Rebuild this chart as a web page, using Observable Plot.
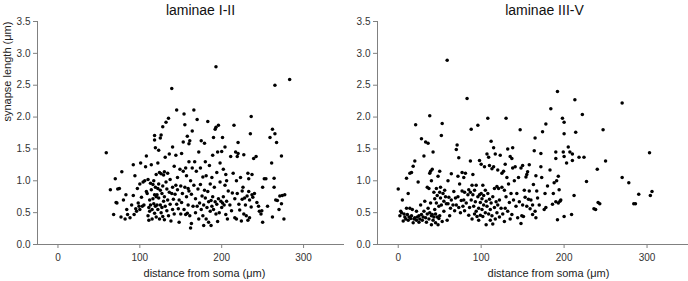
<!DOCTYPE html>
<html><head><meta charset="utf-8">
<script src="https://cdn.jsdelivr.net/npm/d3@7"></script>
<script src="https://cdn.jsdelivr.net/npm/@observablehq/plot@0.6"></script>
<style>body{margin:0;background:#fff}#wrap{display:flex;width:688px;height:281px;overflow:hidden}</style>
</head><body><div id="wrap"></div>
<script>
const titles = ["laminae I-II", "laminae III-V"];
const xLabel = "distance from soma (\u03bcm)";
const yLabel = "synapse length (\u03bcm)";
const xTicks = [0, 100, 200, 300];
const yTicks = [0, 0.5, 1.0, 1.5, 2.0, 2.5, 3.0, 3.5];
const xDomain = [-25, 350];
const yDomain = [0, 3.5];

// laminae I-II : [distance, length]
const lam12 = [
[59,1.44],[68,0.47],[70,1.03],[71,0.66],[72,0.65],[75,0.88],[73,0.87],[64,0.86],[77,0.43],[78,1.14],[80,0.70],[82,0.40],[84,0.55],[85,0.47],[83,0.78],
[88,0.42],[90,0.62],[92,1.25],[92,0.77],[93,0.47],[94,1.08],[95,0.56],[96,0.52],[97,0.88],[98,0.65],[99,0.60],[100,0.95],[100,0.55],[101,1.28],[102,0.74],
[103,0.60],[104,0.98],[105,0.62],[106,1.00],[107,1.22],[108,1.39],[108,0.83],[109,0.80],[110,1.02],[110,0.45],[111,0.38],[111,0.58],[112,0.70],[112,0.52],[113,0.96],[113,0.62],[114,1.25],[114,0.86],[115,0.55],[115,0.40],[116,0.94],[116,0.72],[117,1.00],[117,0.64],[118,1.71],[118,1.64],[118,0.78],[118,0.49],[119,1.52],[119,0.90],[119,0.60],[120,0.75],[120,1.10],[120,0.43],
[121,0.78],[121,0.62],[122,1.28],[122,0.88],[122,0.55],[123,1.48],[123,0.95],[123,0.73],[124,0.40],[124,1.13],[125,1.67],[125,0.85],[125,0.62],[126,0.50],[126,1.11],[126,1.72],[127,0.80],[127,0.58],[128,1.85],[128,0.92],[128,0.44],[129,1.09],[129,0.68],[130,1.14],[130,0.39],[130,0.75],[131,1.37],[131,0.60],[132,0.98],[132,1.92],[133,0.87],[133,0.53],[134,1.12],[134,0.70],[135,1.98],[135,0.45],[136,1.42],[136,0.82],[137,1.02],[137,0.63],[138,0.37],[139,2.45],[139,0.80],[140,1.53],[140,0.55],[140,0.90],
[141,0.71],[142,1.23],[142,0.48],[143,0.79],[144,0.93],[144,1.40],[145,0.63],[145,2.11],[146,1.05],[146,0.86],[147,0.56],[148,0.35],[148,0.70],[149,1.18],[150,0.92],[150,0.48],[151,1.43],[151,0.66],[152,0.80],[153,1.61],[153,1.15],[154,0.55],[154,2.05],[155,0.90],[155,1.88],[156,0.47],[156,1.20],[157,0.75],[157,1.08],[158,0.49],[158,1.70],[159,0.88],[159,0.62],[160,1.58],[160,1.30],[160,0.84],
[161,1.63],[161,0.45],[162,0.26],[162,1.00],[163,0.79],[163,0.33],[164,1.78],[164,1.20],[165,0.60],[166,2.11],[166,0.93],[167,1.30],[168,0.50],[168,0.72],[169,1.15],[170,1.96],[170,0.60],[171,0.87],[172,1.45],[172,0.40],[173,0.65],[174,1.20],[174,0.94],[175,1.63],[175,0.55],[176,0.76],[177,1.06],[177,0.45],[178,0.30],[178,0.62],[179,1.59],[179,0.85],[180,1.30],[180,0.73],
[181,0.40],[181,1.08],[182,0.58],[183,1.93],[183,0.83],[184,0.35],[184,0.67],[185,1.24],[186,0.52],[186,0.95],[187,0.30],[187,0.69],[188,1.05],[188,0.60],[189,1.40],[189,0.75],[190,1.68],[190,0.55],[193,2.79],[191,0.90],[192,1.81],[192,0.67],[193,1.84],[193,0.48],[194,1.13],[194,0.63],[195,1.45],[195,0.36],[196,1.87],[196,0.72],[197,0.50],[198,0.98],[198,1.28],[199,0.68],[200,1.46],[200,0.58],
[201,1.68],[201,0.65],[202,1.18],[202,0.75],[203,0.62],[204,1.53],[204,0.93],[205,1.10],[205,0.47],[206,0.68],[206,1.00],[207,0.40],[208,0.84],[210,0.62],[211,1.38],[212,0.53],[213,0.81],[214,1.12],[215,1.87],[216,0.42],[216,0.72],[217,1.45],[218,1.00],[218,0.40],[219,1.38],[219,0.80],[220,1.60],[220,1.43],
[221,0.63],[222,0.54],[223,1.05],[224,0.37],[225,0.84],[225,0.71],[226,0.90],[227,1.41],[227,0.48],[228,0.73],[229,0.62],[230,0.45],[231,0.76],[232,1.12],[232,0.38],[233,0.83],[233,1.03],[234,0.70],[234,0.42],[235,1.74],[236,2.01],[236,0.59],[237,1.10],[237,0.78],[238,0.74],[239,1.35],[240,0.80],
[242,1.38],[243,0.66],[245,0.60],[246,0.52],[248,0.48],[249,0.53],[250,0.35],[250,0.90],[252,1.03],[254,1.03],[256,0.60],[259,1.68],
[261,1.28],[262,0.43],[262,1.81],[264,1.04],[264,0.90],[265,1.74],[265,2.50],[266,0.70],[267,1.60],[268,0.69],[270,0.55],[271,0.76],[273,1.39],[273,0.64],[274,0.77],[276,0.40],[277,0.78],[283,2.59]
];

// laminae III-V : [distance, length]
const lam35 = [
[0,0.87],[2,0.45],[3,0.52],[4,0.50],[5,0.70],[6,0.37],[7,0.48],[8,0.43],[9,0.40],[10,1.04],[10,0.57],[11,0.47],[12,0.80],[12,0.38],[13,0.43],[14,0.57],[14,1.12],[15,0.41],[16,1.13],[16,0.45],[17,0.55],[18,1.23],[18,0.34],[19,0.40],[20,1.31],[20,0.42],
[21,1.88],[22,0.38],[22,0.52],[23,0.43],[24,0.98],[25,0.35],[25,0.45],[26,0.40],[27,0.62],[28,1.66],[28,0.47],[29,0.38],[30,0.43],[31,1.39],[31,0.52],[32,0.68],[33,1.61],[33,0.42],[34,0.35],[35,0.48],[35,0.90],[36,1.59],[36,0.57],[37,0.88],[37,0.40],[38,1.12],[38,2.02],[38,0.50],[39,0.65],[39,1.15],[40,0.31],[40,0.45],[40,1.00],
[41,0.47],[41,1.18],[42,1.45],[42,0.38],[43,0.43],[43,0.82],[44,0.72],[44,0.55],[45,0.34],[45,0.48],[46,0.65],[46,0.88],[47,0.77],[47,0.43],[48,0.31],[48,1.07],[49,0.60],[49,0.41],[50,0.82],[50,1.15],[50,0.45],[51,0.73],[51,0.90],[52,1.71],[52,0.62],[53,1.90],[53,0.36],[54,0.80],[55,0.52],[55,0.68],[56,0.85],[57,0.75],[58,0.64],[59,2.89],[59,0.38],[60,1.00],[60,0.64],
[61,0.74],[62,0.45],[63,0.57],[64,1.11],[64,0.70],[66,0.62],[67,0.83],[68,0.53],[69,0.73],[70,1.49],[70,0.62],[71,1.56],[72,1.07],[72,0.75],[73,1.36],[73,0.58],[74,0.95],[75,0.50],[76,0.69],[77,1.13],[77,0.84],[78,0.60],[79,1.05],[79,0.70],[80,0.53],[80,0.82],
[81,1.12],[82,0.65],[83,2.29],[84,0.78],[85,0.46],[85,0.86],[86,0.58],[87,1.31],[87,0.82],[88,1.81],[88,0.70],[89,0.40],[89,0.93],[90,0.78],[90,1.10],[91,0.60],[92,0.85],[92,0.48],[93,0.67],[94,0.93],[94,0.52],[95,0.44],[96,0.75],[96,1.87],[97,0.57],[97,0.38],[98,0.78],[98,1.32],[99,0.66],[99,0.46],[100,0.80],[100,1.26],
[101,0.55],[101,0.72],[102,0.44],[102,0.93],[103,0.62],[103,0.77],[104,1.22],[105,0.50],[105,0.85],[106,0.68],[106,0.31],[107,1.42],[107,0.60],[108,1.98],[108,0.80],[109,1.37],[109,0.48],[110,0.71],[110,1.24],[111,0.55],[111,0.38],[112,1.62],[112,0.65],[113,1.19],[113,0.45],[114,0.75],[114,0.32],[115,1.52],[115,1.22],[116,0.58],[116,0.88],[117,0.40],[117,1.42],[118,0.67],[119,0.91],[119,0.50],[120,0.62],[120,1.17],
[121,0.88],[122,0.43],[122,0.70],[123,1.40],[124,0.57],[125,1.12],[125,0.90],[126,0.48],[127,1.15],[128,0.85],[128,0.36],[129,1.26],[129,0.57],[130,1.98],[130,0.75],[131,1.05],[132,1.50],[132,0.52],[133,0.95],[134,0.66],[135,1.38],[135,0.40],[136,0.80],[137,1.35],[137,0.47],[138,1.52],[138,1.20],[139,0.70],[140,1.00],
[141,1.22],[142,0.60],[143,0.80],[144,0.42],[145,1.05],[146,0.67],[147,1.80],[148,0.33],[148,1.20],[149,0.45],[150,1.24],[150,0.62],[151,0.44],[152,0.85],[153,0.74],[154,1.06],[155,1.10],[155,0.60],[156,1.14],[157,0.71],[158,1.25],[158,0.84],[159,0.56],[160,0.70],
[162,0.47],[162,0.62],[163,0.94],[164,1.47],[165,1.67],[165,0.52],[166,1.08],[166,0.42],[167,0.84],[168,0.73],[170,0.62],[172,1.43],[172,1.22],[173,1.05],[174,1.77],[176,0.55],[177,0.80],[178,1.89],[178,0.58],[180,0.92],
[183,1.17],[184,2.13],[186,0.63],[187,0.80],[188,0.97],[190,1.45],[190,1.35],[190,0.67],[191,1.00],[192,2.40],[192,0.39],[193,0.65],[193,1.07],[194,0.86],[195,0.68],[196,0.70],[198,1.98],[199,1.45],[200,1.92],[200,1.74],[200,1.38],[200,0.44],
[203,1.28],[205,1.53],[207,1.45],[209,0.47],[210,1.42],[210,1.32],[212,0.77],[213,2.27],[214,1.76],[218,1.37],[222,2.04],[224,1.37],[227,0.99],
[236,0.56],[238,0.55],[240,1.18],[241,0.66],[243,0.64],[247,1.80],[250,1.31],[270,2.22],[270,1.05],[278,0.97],[284,0.64],[286,0.64],[290,0.79],[303,1.44],[304,0.77],[306,0.83]
];

function panel(data, title, showY, marginLeft) {
  const W = 344, H = 281, mt = 21, mb = 37;
  const cx = (marginLeft + W) / 2, cy = (mt + H - mb) / 2;
  return Plot.plot({
    width: W, height: H,
    marginLeft, marginRight: 0, marginTop: mt, marginBottom: mb,
    x: {domain: xDomain},
    y: {domain: yDomain},
    style: {fontFamily: "'Liberation Sans', Arial, sans-serif", fontSize: "10px", color: "#333", background: "#fff", overflow: "visible"},
    marks: [
      Plot.ruleY([yDomain[0]], {stroke: "#808080"}),
      Plot.ruleX([xDomain[0]], {stroke: "#808080"}),
      Plot.axisX({ticks: xTicks, tickSize: 4, tickPadding: 5, label: null, stroke: "#808080", fill: "#333"}),
      Plot.axisY({ticks: yTicks, tickSize: 4, tickPadding: 3, tickFormat: d3.format(".1f"), label: null, stroke: "#808080", fill: "#333"}),
      Plot.dot(data, {x: d => d[0], y: d => d[1], r: 1.75, fill: "#000", stroke: null}),
      Plot.text([title], {frameAnchor: "top", dx: 200 - cx, dy: -16, fontSize: 14, fill: "#111"}),
      Plot.text([xLabel], {frameAnchor: "bottom", dx: 204 - cx, dy: 32, fontSize: 11, fill: "#222"}),
      showY ? Plot.text([yLabel], {frameAnchor: "left", rotate: -90, dx: 7 - marginLeft, dy: 121 - cy, fontSize: 11, fill: "#222"}) : null
    ]
  });
}

const wrap = document.getElementById("wrap");
wrap.append(panel(lam12, titles[0], true, 37));
wrap.append(panel(lam35, titles[1], false, 33));
</script>
</body></html>
